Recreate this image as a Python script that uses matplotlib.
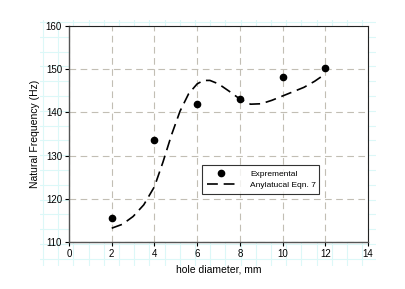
import numpy as np
import matplotlib.pyplot as plt

plt.rcParams['font.family'] = ['Liberation Sans', 'DejaVu Sans']

# experimental points
exp_d = [2, 4, 6, 8, 10, 12]
exp_f = [115.5, 133.5, 142.0, 143.0, 148.3, 150.2]

# analytical curve (Eqn. 7)
ana_d = [2.0, 2.5, 3.0, 3.5, 4.0, 4.4, 4.8, 5.2, 5.6, 6.0, 6.3, 6.6, 7.0,
         7.5, 8.0, 8.5, 9.0, 9.5, 10.0, 10.5, 11.0, 11.5, 12.0]
ana_f = [113.2, 114.1, 115.9, 118.6, 122.8, 128.5, 134.8, 140.3, 144.3, 146.6,
         147.4, 147.4, 146.6, 144.9, 143.1, 141.9, 142.0, 142.8, 143.8, 144.8,
         145.8, 147.2, 148.9]

fig = plt.figure(figsize=(4.06, 2.89), dpi=100)

# faint graph-paper background behind the plot
W, H = 406, 289
bg = fig.add_axes([40 / W, 1 - 266 / H, 336 / W, 246 / H], zorder=0)
bg.set_xlim(40, 376)
bg.set_ylim(266, 20)
for x in np.arange(43, 376, 15.2):
    bg.axvline(x, color='#dcf8f8', lw=0.8)
for y in np.arange(22, 266, 14.8):
    bg.axhline(y, color='#dcf8f8', lw=0.8)
bg.axis('off')

ax = fig.add_axes([69 / W, 1 - 242 / H, 299 / W, 216 / H], zorder=1)
ax.set_facecolor('white')

ax.plot(exp_d, exp_f, 'o', color='black', ms=4.5, label='Expremental', zorder=3)
ax.plot(ana_d, ana_f, color='black', lw=1.2, dashes=(6.5, 3.5),
        label='Anylatucal Eqn. 7', zorder=3)

ax.set_xlim(0, 14)
ax.set_ylim(110, 160)
ax.set_xticks(range(0, 15, 2))
ax.set_yticks(range(110, 161, 10))
ax.grid(True, color='#c2beb4', lw=0.8, dashes=(6, 4))
ax.set_axisbelow(True)
ax.tick_params(labelsize=7, length=3, width=0.8, direction='out', pad=2)

for side in ['top', 'right']:
    ax.spines[side].set_linewidth(0.8)
    ax.spines[side].set_color('#222222')
for side in ['left', 'bottom']:
    ax.spines[side].set_linewidth(1.0)
    ax.spines[side].set_color('#555555')

ax.set_xlabel('hole diameter, mm', fontsize=7.5, labelpad=4)
ax.set_ylabel('Natural Frequency (Hz)', fontsize=7.5, labelpad=4)

leg = ax.legend(loc='lower left', bbox_to_anchor=(0.445, 0.222, 0.391, 0.144),
                mode='expand', fontsize=6, frameon=True, fancybox=False,
                borderaxespad=0, handlelength=3.4, borderpad=0.6,
                labelspacing=0.35, handletextpad=1.8)
leg.get_frame().set_edgecolor('black')
leg.get_frame().set_linewidth(0.8)

fig.savefig('out.png', dpi=100)
